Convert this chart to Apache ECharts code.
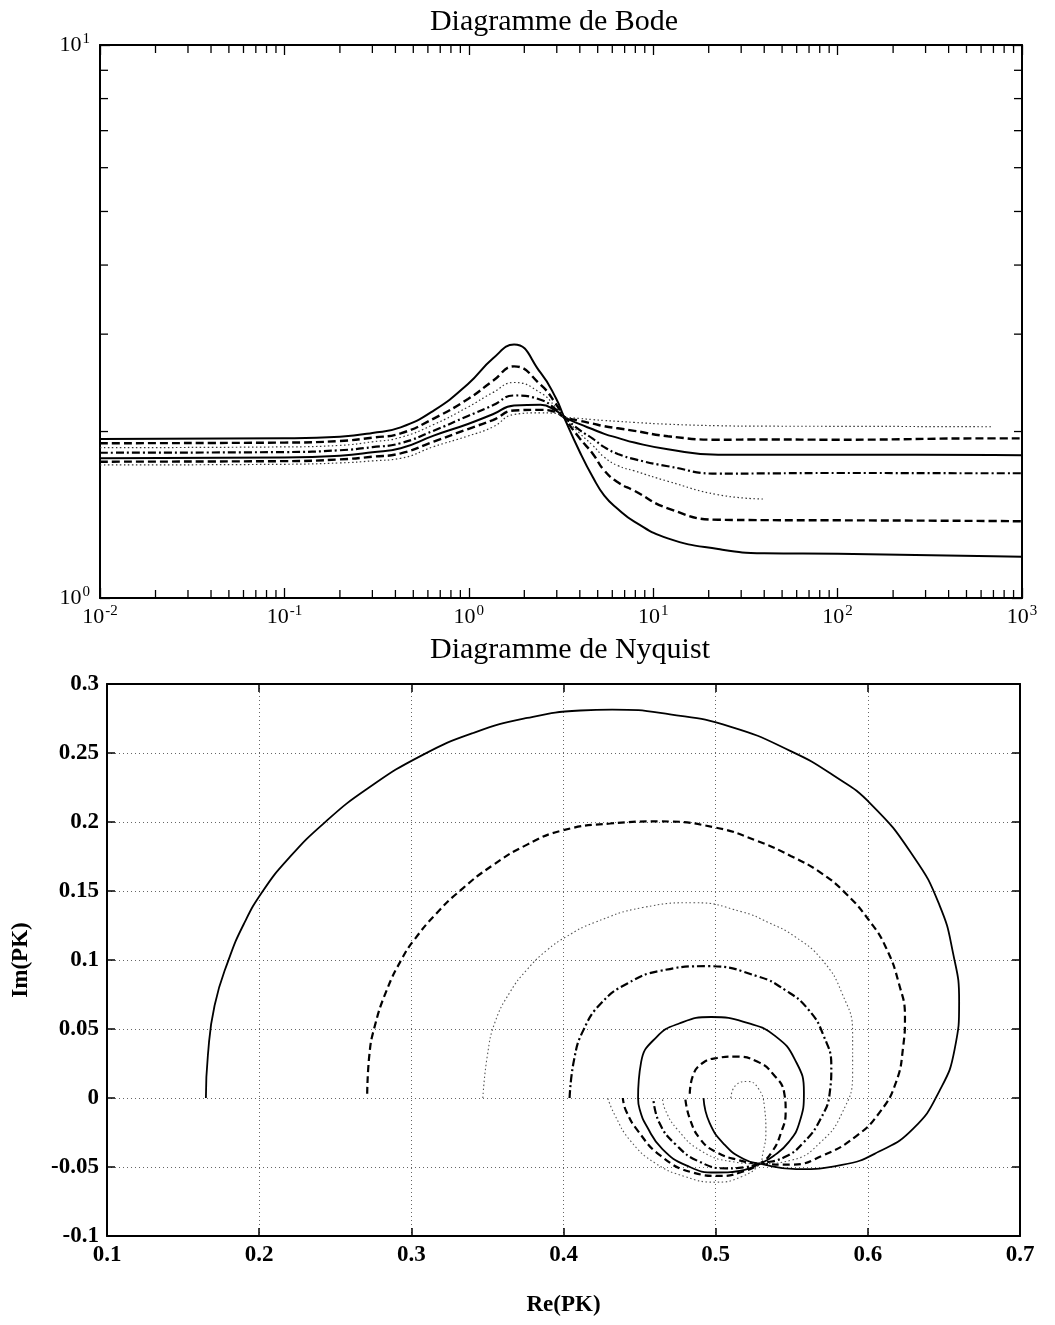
<!DOCTYPE html>
<html>
<head>
<meta charset="utf-8">
<script src="https://cdn.jsdelivr.net/npm/echarts@6/dist/echarts.min.js"></script>
<style>
html,body{margin:0;padding:0;background:#fff;}
#chart{width:1055px;height:1325px;}
</style>
</head>
<body>
<div id="chart"></div>
<script>
// ---------- Bode diagram data (frequency, magnitude) ----------
const bodeFreq = [0.01, 0.1, 0.2, 0.3, 0.427, 0.645, 0.99, 1.35, 1.76, 2.45, 2.97, 3.28, 4.0, 4.7, 5.43, 6.43, 7.9, 12, 22.5, 40, 100, 700, 1000];
const bodeS1  = [1.939, 1.945, 1.958, 1.988, 2.035, 2.182, 2.438, 2.710, 2.873, 2.555, 2.297, 2.125, 1.837, 1.655, 1.532, 1.449, 1.375, 1.282, 1.226, 1.205, 1.202, 1.190, 1.188];
const bodeD1  = [1.905, 1.910, 1.923, 1.950, 1.985, 2.111, 2.290, 2.469, 2.623, 2.430, 2.243, 2.125, 1.943, 1.824, 1.700, 1.619, 1.563, 1.453, 1.385, 1.383, 1.382, 1.378, 1.376];
const bodeDt1 = [1.870, 1.876, 1.888, 1.916, 1.952, 2.059, 2.215, 2.352, 2.453, 2.350, 2.212, 2.125, 1.984, 1.888, 1.797, 1.735, 1.698, 1.626, 1.537, 1.510, null, null, null];
const bodeDD  = [1.831, 1.836, 1.850, 1.874, 1.905, 2.007, 2.134, 2.231, 2.324, 2.283, 2.194, 2.125, 2.011, 1.942, 1.874, 1.822, 1.783, 1.731, 1.678, 1.680, 1.683, 1.681, 1.681];
const bodeS2  = [1.789, 1.795, 1.809, 1.834, 1.865, 1.966, 2.064, 2.149, 2.229, 2.236, 2.181, 2.125, 2.062, 2.019, 1.981, 1.948, 1.910, 1.858, 1.816, 1.815, 1.816, 1.813, 1.812];
const bodeD2  = [1.764, 1.768, 1.781, 1.801, 1.826, 1.918, 2.021, 2.098, 2.183, 2.189, 2.167, 2.125, 2.091, 2.067, 2.045, 2.027, 2.006, 1.961, 1.933, 1.935, 1.933, 1.944, 1.944];
const bodeDt2 = [1.740, 1.745, 1.755, 1.770, 1.789, 1.878, 1.963, 2.038, 2.147, 2.162, 2.158, 2.125, 2.112, 2.102, 2.094, 2.087, 2.077, 2.062, 2.049, 2.045, 2.044, 2.040, null];

// ---------- Nyquist diagram data [Re, Im] ----------
const nyqS1 = [[0.165,0.0],[0.1663,0.031],[0.1707,0.067],[0.1799,0.1001],[0.1901,0.1265],[0.2020,0.1493],[0.2186,0.1727],[0.2430,0.1996],[0.2715,0.2244],[0.3069,0.2483],[0.3414,0.2648],[0.3762,0.2754],[0.4110,0.2808],[0.432,0.2815],[0.470,0.278],[0.510,0.269],[0.550,0.251],[0.577,0.234],[0.602,0.213],[0.630,0.175],[0.647,0.140],[0.656,0.105],[0.660,0.070],[0.657,0.035],[0.647,0.005],[0.630,-0.022],[0.607,-0.039],[0.583,-0.0485],[0.553,-0.0515],[0.529,-0.0476],[0.518,-0.044],[0.506,-0.034],[0.496,-0.018],[0.492,0.0]];
const nyqD1 = [[0.271,0.003],[0.2724,0.031],[0.2755,0.0501],[0.2837,0.0778],[0.2941,0.1015],[0.3018,0.1145],[0.3162,0.1334],[0.3323,0.1505],[0.3534,0.1686],[0.3761,0.1836],[0.3993,0.1939],[0.4306,0.1989],[0.4632,0.2004],[0.4997,0.196],[0.5277,0.1861],[0.5493,0.1754],[0.5687,0.1635],[0.586,0.1477],[0.601,0.1284],[0.6118,0.1093],[0.6205,0.0826],[0.6244,0.0586],[0.6232,0.0371],[0.6183,0.0107],[0.6075,-0.0108],[0.5924,-0.0276],[0.5708,-0.0415],[0.5493,-0.0483],[0.529,-0.0476],[0.515,-0.045],[0.500,-0.039],[0.490,-0.030],[0.483,-0.015],[0.480,0.0]];
const nyqDt1 = [[0.347,0.0],[0.350,0.031],[0.355,0.055],[0.365,0.077],[0.376,0.093],[0.389,0.107],[0.402,0.117],[0.420,0.127],[0.452,0.138],[0.486,0.1415],[0.517,0.135],[0.535,0.127],[0.552,0.117],[0.570,0.100],[0.583,0.076],[0.590,0.047],[0.590,0.017],[0.583,-0.011],[0.569,-0.032],[0.550,-0.045],[0.529,-0.0476],[0.510,-0.046],[0.490,-0.038],[0.475,-0.023],[0.467,-0.009],[0.465,0.0]];
const nyqDD = [[0.404,0.0],[0.407,0.028],[0.413,0.049],[0.425,0.069],[0.442,0.083],[0.463,0.092],[0.495,0.0955],[0.528,0.088],[0.546,0.078],[0.561,0.064],[0.571,0.045],[0.576,0.023],[0.575,0.004],[0.569,-0.015],[0.558,-0.032],[0.545,-0.043],[0.529,-0.0476],[0.520,-0.050],[0.507,-0.051],[0.489,-0.046],[0.474,-0.034],[0.463,-0.018],[0.459,0.0]];
const nyqS2 = [[0.449,0.0],[0.451,0.026],[0.461,0.044],[0.476,0.054],[0.497,0.0587],[0.522,0.054],[0.539,0.045],[0.552,0.028],[0.558,0.004],[0.555,-0.018],[0.548,-0.032],[0.538,-0.042],[0.529,-0.0476],[0.519,-0.052],[0.500,-0.054],[0.481,-0.049],[0.465,-0.037],[0.455,-0.021],[0.450,-0.008],[0.449,0.0]];
const nyqD2 = [[0.483,0.003],[0.485,0.016],[0.491,0.025],[0.501,0.029],[0.513,0.030],[0.528,0.026],[0.538,0.017],[0.545,0.004],[0.546,-0.010],[0.543,-0.025],[0.537,-0.039],[0.529,-0.0476],[0.516,-0.054],[0.503,-0.0565],[0.485,-0.054],[0.464,-0.042],[0.449,-0.024],[0.441,-0.009],[0.439,0.0]];
const nyqDt2 = [[0.510,0.0],[0.513,0.009],[0.521,0.012],[0.528,0.007],[0.532,-0.006],[0.533,-0.025],[0.531,-0.040],[0.529,-0.0476],[0.517,-0.057],[0.500,-0.061],[0.480,-0.057],[0.460,-0.047],[0.444,-0.031],[0.434,-0.013],[0.429,0.0]];

// ---------- texts and tick definitions ----------
const bodeTitle = 'Diagramme de Bode';
const nyqTitle = 'Diagramme de Nyquist';
const nyqXName = 'Re(PK)';
const nyqYName = 'Im(PK)';
const minorMultipliers = [2,3,4,5,6,7,8,9];
const bodeXDecades = [0.01, 0.1, 1, 10, 100];
const bodeYDecades = [1];

const bodeMinorX = [];
bodeXDecades.forEach(d => minorMultipliers.forEach(m => bodeMinorX.push([d*m, 1])));
const bodeMinorY = [];
bodeYDecades.forEach(d => minorMultipliers.forEach(m => bodeMinorY.push([0.01, d*m])));

function pairs(vals){
  return bodeFreq.map((f,i)=> vals[i]==null ? null : [f, vals[i]]).filter(Boolean);
}

const SOLID = 'solid', DASH = [8,4], DOT = [1.5,2.5], DASHDOT = [8,3,2,3];
const serif = '"Liberation Serif", "DejaVu Serif", serif';

function supLabel(v){
  const e = Math.round(Math.log10(v));
  return '{b|10}{e|' + e + '}';
}
const supRich = {
  b: {fontSize: 22, fontFamily: serif, color:'#000', lineHeight: 26},
  e: {fontSize: 15, fontFamily: serif, color:'#000', lineHeight: 15, verticalAlign: 'top', padding:[0,0,0,1]}
};

function bodeLine(name, vals, type, width, color){
  return {
    name, type:'line', xAxisIndex:0, yAxisIndex:0, data: pairs(vals),
    showSymbol:false, smooth:0.5, animation:false,
    lineStyle:{color: color||'#000', width, type}
  };
}
function nyqLine(name, vals, type, width, color){
  return {
    name, type:'line', xAxisIndex:2, yAxisIndex:2, data: vals,
    showSymbol:false, smooth:0.5, animation:false,
    lineStyle:{color: color||'#000', width, type}
  };
}

function tickRender(isX){
  return function(params, api){
    const L = 8;
    if(isX){
      const v = api.value(0);
      const p1 = api.coord([v, 1]);
      const p2 = api.coord([v, 10]);
      return {type:'group', children:[
        {type:'line', shape:{x1:p1[0], y1:p1[1], x2:p1[0], y2:p1[1]-L}, style:{stroke:'#000', lineWidth:1.3}},
        {type:'line', shape:{x1:p2[0], y1:p2[1], x2:p2[0], y2:p2[1]+L}, style:{stroke:'#000', lineWidth:1.3}}
      ]};
    } else {
      const v = api.value(1);
      const p1 = api.coord([0.01, v]);
      const p2 = api.coord([1000, v]);
      return {type:'group', children:[
        {type:'line', shape:{x1:p1[0], y1:p1[1], x2:p1[0]+L, y2:p1[1]}, style:{stroke:'#000', lineWidth:1.3}},
        {type:'line', shape:{x1:p2[0], y1:p2[1], x2:p2[0]-L, y2:p2[1]}, style:{stroke:'#000', lineWidth:1.3}}
      ]};
    }
  };
}

const chart = echarts.init(document.getElementById('chart'), null, {renderer:'canvas'});

const nyqLabel = {color:'#000', fontFamily: serif, fontWeight:'bold', fontSize: 23};
const frame = {show:true, onZero:false, lineStyle:{color:'#000', width:2}};

const option = {
  backgroundColor:'#fff',
  animation:false,
  grid:[
    {left:100, top:45, width:922, height:553},
    {left:107, top:684, width:913, height:552}
  ],
  graphic:[
    {type:'text', x:554, y:22, style:{text:bodeTitle, font:'30px '+serif, fill:'#000', align:'center', verticalAlign:'middle', textAlign:'center', textVerticalAlign:'middle'}},
    {type:'text', x:570, y:650, style:{text:nyqTitle, font:'30px '+serif, fill:'#000', align:'center', verticalAlign:'middle', textAlign:'center', textVerticalAlign:'middle'}}
  ],
  xAxis:[
    {type:'log', gridIndex:0, logBase:10, min:0.01, max:1000, position:'bottom',
     axisLine:frame, axisTick:{show:true, inside:true, length:10, lineStyle:{color:'#000', width:1.3}},
     axisLabel:{formatter:supLabel, rich:supRich, margin:6}, splitLine:{show:false}},
    {type:'log', gridIndex:0, logBase:10, min:0.01, max:1000, position:'top',
     axisLine:frame, axisTick:{show:true, inside:true, length:10, lineStyle:{color:'#000', width:1.3}},
     axisLabel:{show:false}, splitLine:{show:false}},
    {type:'value', gridIndex:1, min:0.1, max:0.7, interval:0.1, position:'bottom',
     axisLine:frame, axisTick:{show:true, inside:true, length:8, lineStyle:{color:'#000', width:1.5}},
     axisLabel:Object.assign({margin:8}, nyqLabel),
     splitLine:{show:true, lineStyle:{color:'#666', width:1, type:[1,3]}},
     name:nyqXName, nameLocation:'middle', nameGap:58, nameTextStyle:Object.assign({}, nyqLabel)},
    {type:'value', gridIndex:1, min:0.1, max:0.7, interval:0.1, position:'top',
     axisLine:frame, axisTick:{show:true, inside:true, length:8, lineStyle:{color:'#000', width:1.5}},
     axisLabel:{show:false}, splitLine:{show:false}}
  ],
  yAxis:[
    {type:'log', gridIndex:0, logBase:10, min:1, max:10, position:'left',
     axisLine:frame, axisTick:{show:true, inside:true, length:10, lineStyle:{color:'#000', width:1.3}},
     axisLabel:{formatter:supLabel, rich:supRich, margin:10}, splitLine:{show:false}},
    {type:'log', gridIndex:0, logBase:10, min:1, max:10, position:'right',
     axisLine:frame, axisTick:{show:true, inside:true, length:10, lineStyle:{color:'#000', width:1.3}},
     axisLabel:{show:false}, splitLine:{show:false}},
    {type:'value', gridIndex:1, min:-0.1, max:0.3, interval:0.05, position:'left',
     axisLine:frame, axisTick:{show:true, inside:true, length:8, lineStyle:{color:'#000', width:1.5}},
     axisLabel:Object.assign({margin:8}, nyqLabel),
     splitLine:{show:true, lineStyle:{color:'#666', width:1, type:[1,3]}},
     name:nyqYName, nameLocation:'middle', nameGap:74, nameTextStyle:Object.assign({}, nyqLabel)},
    {type:'value', gridIndex:1, min:-0.1, max:0.3, interval:0.05, position:'right',
     axisLine:frame, axisTick:{show:true, inside:true, length:8, lineStyle:{color:'#000', width:1.5}},
     axisLabel:{show:false}, splitLine:{show:false}}
  ],
  series:[
    {type:'custom', xAxisIndex:0, yAxisIndex:0, data:bodeMinorX, renderItem:tickRender(true), silent:true, animation:false, clip:false},
    {type:'custom', xAxisIndex:0, yAxisIndex:0, data:bodeMinorY, renderItem:tickRender(false), silent:true, animation:false, clip:false},
    bodeLine('S1', bodeS1, SOLID, 2),
    bodeLine('D1', bodeD1, DASH, 2.4),
    bodeLine('Dt1', bodeDt1, DOT, 1.2, '#333'),
    bodeLine('DD', bodeDD, DASHDOT, 2.2),
    bodeLine('S2', bodeS2, SOLID, 2),
    bodeLine('D2', bodeD2, DASH, 2.4),
    bodeLine('Dt2', bodeDt2, DOT, 1.2, '#333'),
    nyqLine('S1', nyqS1, SOLID, 1.8),
    nyqLine('D1', nyqD1, [7,4], 2.2),
    nyqLine('Dt1', nyqDt1, DOT, 1.1, '#555'),
    nyqLine('DD', nyqDD, [8,3,2,3], 2.2),
    nyqLine('S2', nyqS2, SOLID, 1.8),
    nyqLine('D2', nyqD2, [7,4], 2.2),
    nyqLine('Dt2', nyqDt2, DOT, 1.1, '#555')
  ]
};
chart.setOption(option);
</script>
</body>
</html>
